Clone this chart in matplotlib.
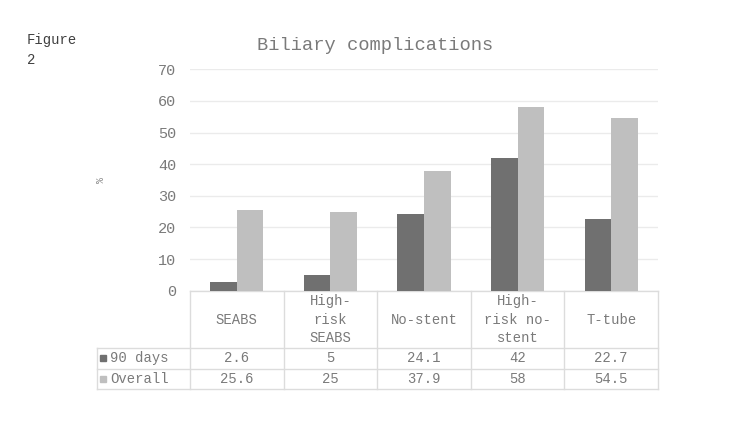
import numpy as np
import matplotlib
matplotlib.use("Agg")
import matplotlib.pyplot as plt
import matplotlib.transforms as mtransforms

plt.rcParams['font.family'] = ['Liberation Mono', 'DejaVu Sans Mono']

# Data
categories = ["SEABS", "High-\nrisk\nSEABS", "No-stent", "High-\nrisk no-\nstent", "T-tube"]
series_names = ["90 days", "Overall"]
days90 = [2.6, 5, 24.1, 42, 22.7]
overall = [25.6, 25, 37.9, 58, 54.5]
value_labels = [["2.6", "5", "24.1", "42", "22.7"],
                ["25.6", "25", "37.9", "58", "54.5"]]

colors = ["#707070", "#bfbfbf"]
text_col = "#7a7a7a"
line_col = "#dcdcdc"

W, H = 750, 422
fig = plt.figure(figsize=(7.5, 4.22), dpi=100)

# axes placed in pixel terms
x0, x1 = 190, 658
ytop, ybot = 69.3, 290.7
ax = fig.add_axes([x0 / W, 1 - ybot / H, (x1 - x0) / W, (ybot - ytop) / H])

x = np.arange(len(categories))
bw = 0.285
ax.bar(x - bw / 2, days90, bw, color=colors[0], zorder=3)
ax.bar(x + bw / 2, overall, bw, color=colors[1], zorder=3)

ax.set_xlim(-0.5, len(categories) - 0.5)
ax.set_ylim(0, 70)
ax.set_yticks(range(0, 71, 10))
ax.yaxis.grid(True, color="#ebebeb", linewidth=1, zorder=0)
ax.set_xticks([])
for s in ax.spines.values():
    s.set_visible(False)
ax.tick_params(axis="y", length=0, pad=10, labelsize=11, labelcolor=text_col)

# table below the plot
trans = mtransforms.blended_transform_factory(ax.transData, ax.transAxes)
ph = ybot - ytop
ppu = (x1 - x0) / len(categories)
def ypix(p):
    return (ybot - p) / ph

row_edges = [348, 368.5, 389]
left_x = -0.5 - (x0 - 97) / ppu

lk = dict(color=line_col, linewidth=1, transform=trans, clip_on=False)
ax.plot([-0.5, len(categories) - 0.5], [0, 0], **lk)
for ry in row_edges:
    ax.plot([left_x, len(categories) - 0.5], [ypix(ry), ypix(ry)], **lk)
for i in range(len(categories) + 1):
    ax.plot([i - 0.5, i - 0.5], [0, ypix(389)], **lk)
ax.plot([left_x, left_x], [ypix(348), ypix(389)], **lk)

for i, c in enumerate(categories):
    ax.text(i, ypix((291 + 348) / 2), c, transform=trans, ha="center", va="center",
            fontsize=10, color=text_col, linespacing=1.4)

for r, name in enumerate(series_names):
    yc = ypix((row_edges[r] + row_edges[r + 1]) / 2)
    ax.plot([left_x + 6 / ppu], [yc], marker="s", markersize=5, color=colors[r],
            linestyle="none", transform=trans, clip_on=False)
    ax.text(left_x + 13 / ppu, yc, name, transform=trans, ha="left", va="center",
            fontsize=10, color=text_col)
    for i, v in enumerate(value_labels[r]):
        ax.text(i, yc, v, transform=trans, ha="center", va="center",
                fontsize=10, color=text_col)

fig.text(375 / W, 1 - 46 / H, "Biliary complications", ha="center", va="center",
         fontsize=13.5, color=text_col)
fig.text(27 / W, 1 - 50 / H, "Figure\n2", ha="left", va="center", fontsize=10,
         color="#404040", linespacing=1.55)
fig.text(101 / W, 1 - 180 / H, "%", ha="center", va="center", rotation=90,
         fontsize=7, color="#8a8a8a")

fig.savefig("out.png", dpi=100)
